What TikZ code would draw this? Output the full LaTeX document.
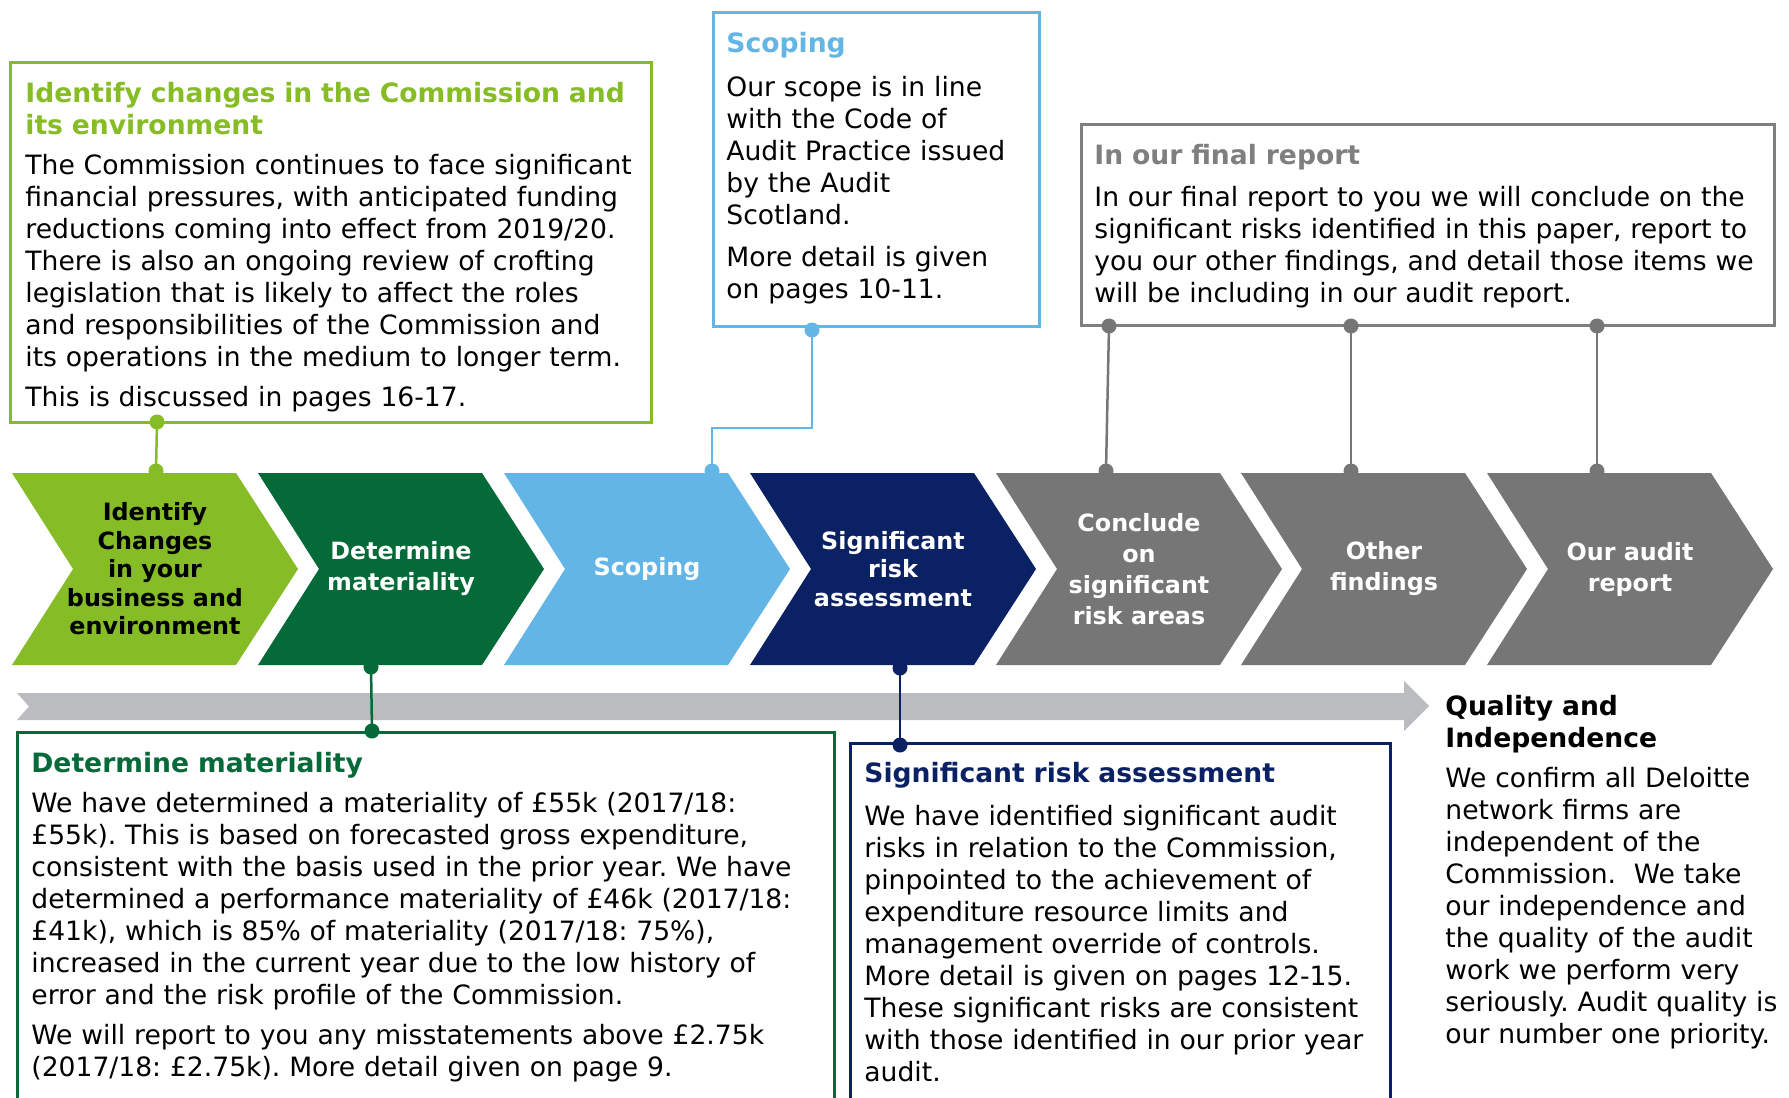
\documentclass[tikz,border=0pt]{standalone}
\usepackage{fontspec}
\setmainfont{DejaVu Sans}
\frenchspacing
\definecolor{lgreen}{HTML}{86BC25}
\definecolor{dgreen}{HTML}{046A38}
\definecolor{lblue}{HTML}{62B5E5}
\definecolor{navy}{HTML}{0A2163}
\definecolor{cgray}{HTML}{767676}
\definecolor{tgray}{HTML}{7F7F7F}
\definecolor{bgray}{HTML}{BBBCBF}
\tikzset{
  body/.style={anchor=base west, inner sep=0pt, align=left, text width=420pt, font=\fontsize{13.3}{16}\selectfont},
  ttl/.style={anchor=base west, inner sep=0pt, align=left, text width=420pt, font=\fontsize{13.3}{16}\selectfont\bfseries},
  chevtext/.style={align=center, inner sep=0pt, font=\fontsize{11.9}{15.5}\selectfont\bfseries, text=white},
  frame/.style={line width=1.4pt, inner sep=0pt, anchor=north west},
  conn/.style={line width=1.25pt},
  dot/.style={circle, inner sep=0pt, minimum size=7.5pt, fill=#1}
}
\newcommand\chevshape[2]{\fill[#2] (#1,473) -- ++(224,0) -- ++(62,96) -- ++(-62,96) -- ++(-224,0) -- ++(61,-96) -- cycle;}
\begin{document}
\begin{tikzpicture}[x=0.5pt, y=-0.5pt]
\useasboundingbox (0,0) rectangle (1789,1098);
\clip (0,0) rectangle (1789,1098);

% chevrons
\chevshape{12}{lgreen}
\chevshape{258}{dgreen}
\chevshape{504}{lblue}
\chevshape{750}{navy}
\chevshape{996}{cgray}
\chevshape{1241}{cgray}
\chevshape{1487}{cgray}

\node[chevtext, text=black, font=\fontsize{11.9}{14.25}\selectfont\bfseries] (c1) at (155,569) {Identify\\Changes\\in your\\business and\\environment};
\node[chevtext] (c2) at (401,569) {Determine\\materiality};
\node[chevtext] (c3) at (647,569) {Scoping};
\node[chevtext, font=\fontsize{11.9}{14.25}\selectfont\bfseries] (c4) at (893,569) {Significant\\risk\\assessment};
\node[chevtext] (c5) at (1139,569) {Conclude\\on\\significant\\risk areas};
\node[chevtext] (c6) at (1384,569) {Other\\findings};
\node[chevtext] (c7) at (1630,569) {Our audit\\report};

% grey timeline arrow
\fill[bgray] (17,693) -- (1404,693) -- (1404,681) -- (1429,706) -- (1404,731) -- (1404,720) -- (17,720) -- (29,706.5) -- cycle;

% boxes
\node[frame, draw=lgreen, minimum width=320.5pt, minimum height=180pt] (box1) at (9,61) {};
\node[frame, draw=lblue, minimum width=163pt, minimum height=157pt] (box3) at (712,11) {};
\node[frame, draw=tgray, minimum width=346.5pt, minimum height=100.5pt] (box5) at (1080,123) {};
\node[frame, draw=dgreen, minimum width=408.5pt, minimum height=200pt] (box2) at (16,731) {};
\node[frame, draw=navy, minimum width=270pt, minimum height=200pt] (box4) at (849,742) {};

% texts
\node[ttl, text=lgreen] (t1) at (25,102) {Identify changes in the Commission and\\its environment};
\node[body] (b1) at (25,174) {The Commission continues to face significant\\
financial pressures, with anticipated funding\\
reductions coming into effect from 2019/20.\\
There is also an ongoing review of crofting\\
legislation that is likely to affect the roles\\
and responsibilities of the Commission and\\
its operations in the medium to longer term.\\[4pt]
This is discussed in pages 16-17.};

\node[ttl, text=lblue] (t3) at (726,52) {Scoping};
\node[body] (b3) at (726,96) {Our scope is in line\\
with the Code of\\
Audit Practice issued\\
by the Audit\\
Scotland.\\[5pt]
More detail is given\\
on pages 10-11.};

\node[ttl, text=tgray] (t5) at (1094,164) {In our final report};
\node[body] (b5) at (1094,206) {In our final report to you we will conclude on the\\
significant risks identified in this paper, report to\\
you our other findings, and detail those items we\\
will be including in our audit report.};

\node[ttl, text=dgreen] (t2) at (31,772) {Determine materiality};
\node[body] (b2) at (31,812) {We have determined a materiality of £55k (2017/18:\\
£55k). This is based on forecasted gross expenditure,\\
consistent with the basis used in the prior year. We have\\
determined a performance materiality of £46k (2017/18:\\
£41k), which is 85\% of materiality (2017/18: 75\%),\\
increased in the current year due to the low history of\\
error and the risk profile of the Commission.\\[4pt]
We will report to you any misstatements above £2.75k\\
(2017/18: £2.75k). More detail given on page 9.};

\node[ttl, text=navy] (t4) at (864,782) {Significant risk assessment};
\node[body] (b4) at (864,825) {We have identified significant audit\\
risks in relation to the Commission,\\
pinpointed to the achievement of\\
expenditure resource limits and\\
management override of controls.\\
More detail is given on pages 12-15.\\
These significant risks are consistent\\
with those identified in our prior year\\
audit.};

\node[ttl, text=black] (t6) at (1445,715) {Quality and\\Independence};
\node[body] (b6) at (1445,787) {We confirm all Deloitte\\
network firms are\\
independent of the\\
Commission.\ \ We take\\
our independence and\\
the quality of the audit\\
work we perform very\\
seriously. Audit quality is\\
our number one priority.};

% connector dots
\node[dot=lgreen] (d1a) at (157,422) {};
\node[dot=lgreen] (d1b) at (156,471) {};
\node[dot=dgreen] (d2a) at (371,667) {};
\node[dot=dgreen] (d2b) at (372,731) {};
\node[dot=lblue] (d3a) at (812,330) {};
\node[dot=lblue] (d3b) at (712,471) {};
\coordinate (k3a) at (812,428);
\coordinate (k3b) at (712,428);
\node[dot=navy] (d4a) at (900,668) {};
\node[dot=navy] (d4b) at (900,745) {};
\node[dot=cgray] (d5a) at (1109,326) {};
\node[dot=cgray] (d5b) at (1106,471) {};
\node[dot=cgray] (d6a) at (1351,326) {};
\node[dot=cgray] (d6b) at (1351,471) {};
\node[dot=cgray] (d7a) at (1597,326) {};
\node[dot=cgray] (d7b) at (1597,471) {};

% connectors
\draw[conn, lgreen] (d1a.center) -- (d1b.center);
\draw[conn, dgreen] (d2a.center) -- (d2b.center);
\draw[conn, lblue] (d3a.center) -- (k3a) -- (k3b) -- (d3b.center);
\draw[conn, navy] (d4a.center) -- (d4b.center);
\draw[conn, cgray] (d5a.center) -- (d5b.center);
\draw[conn, cgray] (d6a.center) -- (d6b.center);
\draw[conn, cgray] (d7a.center) -- (d7b.center);
\end{tikzpicture}
\end{document}
